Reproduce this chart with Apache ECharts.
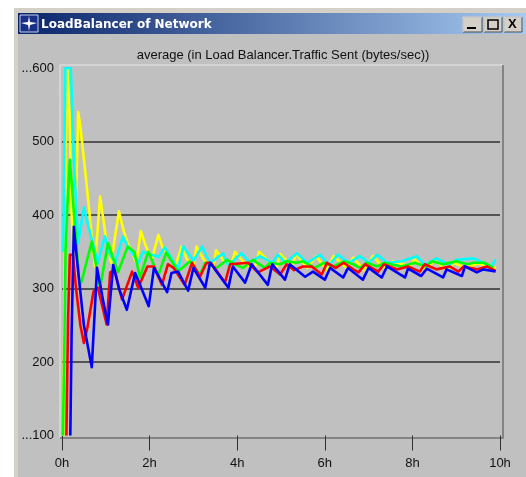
<!DOCTYPE html>
<html><head><meta charset="utf-8">
<style>html,body{margin:0;padding:0;background:#fff}#c{width:526px;height:477px}</style>
<script src="https://cdn.jsdelivr.net/npm/echarts@6/dist/echarts.min.js"></script>
</head><body><div id="c"></div>
<script>
const chartTitle = 'average (in Load Balancer.Traffic Sent (bytes/sec))';
const windowTitle = 'LoadBalancer of Network';
const xTicks = [0,2,4,6,8,10];
const yellow = [[0.03,100],[0.08,450],[0.12,600],[0.17,540],[0.22,400],[0.27,330],[0.33,440],[0.37,540],[0.42,520],[0.55,448],[0.75,330],[0.87,425],[1.0,370],[1.12,335],[1.3,405],[1.4,380],[1.5,362],[1.7,335],[1.8,378],[1.9,360],[2.05,339],[2.2,373],[2.3,355],[2.6,332],[2.73,357],[2.85,340],[3.0,330],[3.07,357],[3.25,338],[3.45,328],[3.52,352],[3.7,337],[3.85,330],[3.95,350],[4.2,332],[4.4,328],[4.5,350],[4.75,335],[4.9,328],[4.98,347],[5.25,330],[5.35,347],[5.6,328],[5.8,344],[6.05,325],[6.2,344],[6.5,328],[6.65,342],[6.9,325],[7.1,344],[7.35,328],[7.55,337],[7.95,330],[8.05,340],[8.3,325],[8.5,338],[8.8,325],[8.95,335],[9.2,328],[9.5,334],[9.9,328]];
const cyan = [[0.03,350],[0.05,475],[0.08,600],[0.2,600],[0.27,475],[0.37,362],[0.5,410],[0.6,385],[0.82,335],[0.98,371],[1.1,345],[1.22,335],[1.39,371],[1.5,357],[1.75,335],[1.85,350],[2.2,343],[2.35,356],[2.65,326],[2.77,357],[3.0,338],[3.2,357],[3.38,335],[3.5,340],[3.68,348],[3.8,330],[3.95,340],[4.1,348],[4.29,335],[4.52,344],[4.8,335],[4.93,346],[5.1,335],[5.36,348],[5.6,335],[5.89,346],[6.1,332],[6.3,346],[6.55,335],[6.8,344],[7.0,335],[7.2,346],[7.42,335],[7.75,337],[8.1,344],[8.28,332],[8.55,341],[8.85,332],[9.0,339],[9.4,341],[9.8,330],[9.9,339]];
const green = [[0.02,100],[0.05,200],[0.08,350],[0.12,410],[0.18,475],[0.25,420],[0.3,384],[0.4,305],[0.45,310],[0.68,364],[0.87,301],[1.05,362],[1.28,322],[1.5,357],[1.65,350],[1.78,315],[1.97,350],[2.2,318],[2.38,349],[2.65,323],[2.92,337],[3.15,319],[3.27,335],[3.53,328],[3.77,339],[3.95,333],[4.13,328],[4.36,339],[4.63,328],[4.75,335],[4.98,333],[5.13,337],[5.36,335],[5.5,337],[5.78,328],[5.97,335],[6.2,330],[6.43,337],[6.65,333],[6.8,328],[6.95,335],[7.2,330],[7.35,335],[7.75,330],[8.05,335],[8.3,330],[8.45,337],[8.7,333],[9.0,337],[9.25,333],[9.4,335],[9.65,335],[9.85,328]];
const red = [[0.1,100],[0.14,260],[0.18,346],[0.25,346],[0.32,300],[0.42,250],[0.5,226],[0.58,247],[0.72,296],[0.82,301],[1.02,251],[1.1,322],[1.2,325],[1.37,285],[1.6,323],[1.74,301],[1.95,330],[2.1,330],[2.28,305],[2.42,333],[2.55,328],[2.8,305],[2.97,335],[3.15,316],[3.3,335],[3.4,335],[3.72,308],[3.84,333],[4.25,335],[4.47,322],[4.75,330],[4.98,319],[5.13,333],[5.3,325],[5.5,330],[5.7,330],[5.93,319],[6.05,335],[6.25,328],[6.43,335],[6.65,326],[6.77,322],[6.92,333],[7.22,323],[7.35,333],[7.65,326],[7.9,330],[8.17,323],[8.28,333],[8.55,326],[8.85,330],[9.05,323],[9.17,330],[9.47,326],[9.7,330],[9.9,324]];
const blue = [[0.19,100],[0.22,240],[0.27,384],[0.34,340],[0.5,250],[0.68,193],[0.8,328],[0.95,280],[1.05,251],[1.17,332],[1.3,300],[1.48,271],[1.67,321],[1.98,276],[2.1,328],[2.4,295],[2.5,321],[2.65,323],[2.88,297],[3.0,328],[3.27,301],[3.38,335],[3.8,301],[3.9,330],[4.18,308],[4.33,333],[4.7,305],[4.8,333],[5.09,312],[5.2,333],[5.55,316],[5.73,323],[6.0,312],[6.12,328],[6.42,315],[6.53,328],[6.87,312],[7.0,328],[7.3,315],[7.42,330],[7.83,315],[7.9,327],[8.2,317],[8.33,327],[8.7,315],[8.78,326],[9.13,317],[9.2,330],[9.47,322],[9.62,326],[9.9,323]];
const seriesList = [['#ffff00',yellow],['#00ffff',cyan],['#00ff00',green],['#ff0000',red],['#0000ff',blue]];

const chart = echarts.init(document.getElementById('c'), null, {renderer:'canvas'});
const FONT = '"Liberation Sans", Arial, sans-serif';
function btn(x,w){ return [
 {type:'rect',z:-1,shape:{x:x,y:17,width:w,height:15},style:{fill:'#d4d0c8',stroke:'#505050',lineWidth:1}},
 {type:'polyline',z:-1,shape:{points:[[x,32],[x,17],[x+w,17]]},style:{stroke:'#fff',lineWidth:1,fill:null}}
];}
chart.setOption({
 animation:false,
 backgroundColor:'#fff',
 title:{text:chartTitle,left:278,top:44,textAlign:'center',textStyle:{fontFamily:FONT,fontSize:13,fontWeight:'normal',color:'#111'}},
 grid:{left:62,right:26,top:68,bottom:41.5,show:false},
 xAxis:{type:'value',min:0,max:10,interval:2,
  axisLine:{show:false},axisTick:{show:true,length:15,lineStyle:{color:'#303030',width:1},inside:false},
  axisLabel:{formatter:v=>v+'h',margin:21,fontFamily:FONT,fontSize:13,color:'#111'},splitLine:{show:false}},
 yAxis:{type:'value',min:100,max:600,interval:100,
  axisLine:{show:false},axisTick:{show:false},
  axisLabel:{formatter:v=>(v===100||v===600)?'...'+v:''+v,margin:8,fontFamily:FONT,fontSize:13,color:'#111'},
  splitLine:{show:true,showMinLine:false,showMaxLine:false,lineStyle:{color:'#303030',width:1.5}}},
 series:seriesList.map(([c,d])=>({type:'line',data:d,showSymbol:false,smooth:false,clip:true,lineStyle:{color:c,width:2.6,join:'round'},itemStyle:{color:c}})),
 graphic:[
  {type:'rect',z:-3,shape:{x:14,y:8,width:512,height:469},style:{fill:'#d4d0c8'}},
  {type:'rect',z:-2,shape:{x:18,y:34,width:508,height:443},style:{fill:'#c0c0c0'}},
  {type:'rect',z:-2,shape:{x:18,y:13,width:508,height:21},style:{fill:new echarts.graphic.LinearGradient(0,0,1,0,[{offset:0,color:'#0a246a'},{offset:1,color:'#a6caf0'}])}},
  {type:'rect',z:-1,shape:{x:20,y:15,width:18,height:17},style:{fill:'#1a2f86',stroke:'#c8d0f0',lineWidth:1}},
  {type:'polygon',z:-1,shape:{points:[[29,16],[30,22],[37,23],[30,25],[29,31],[28,25],[21,23],[28,22]]},style:{fill:'#fff'}},
  {type:'text',z:-1,style:{x:41,y:19,text:windowTitle,fill:'#fff',font:'bold 12px "DejaVu Sans", sans-serif'}},
  ...btn(463,19),...btn(484,18),...btn(504,18),
  {type:'rect',z:-1,shape:{x:467,y:27,width:9,height:2},style:{fill:'#000'}},
  {type:'rect',z:-1,shape:{x:488,y:20,width:10,height:9},style:{fill:'none',stroke:'#000',lineWidth:1.5}},
  {type:'text',z:-1,style:{x:508,y:18,text:'X',fill:'#000',font:'bold 13px "Liberation Sans", sans-serif'}},
  {type:'polyline',z:-1,shape:{points:[[60,438],[60,65],[503,65]]},style:{stroke:'#e8e8e8',lineWidth:1,fill:null}},
  {type:'polyline',z:-1,shape:{points:[[60,438],[503,438],[503,65]]},style:{stroke:'#707070',lineWidth:1.5,fill:null}}
 ]
});
</script></body></html>
